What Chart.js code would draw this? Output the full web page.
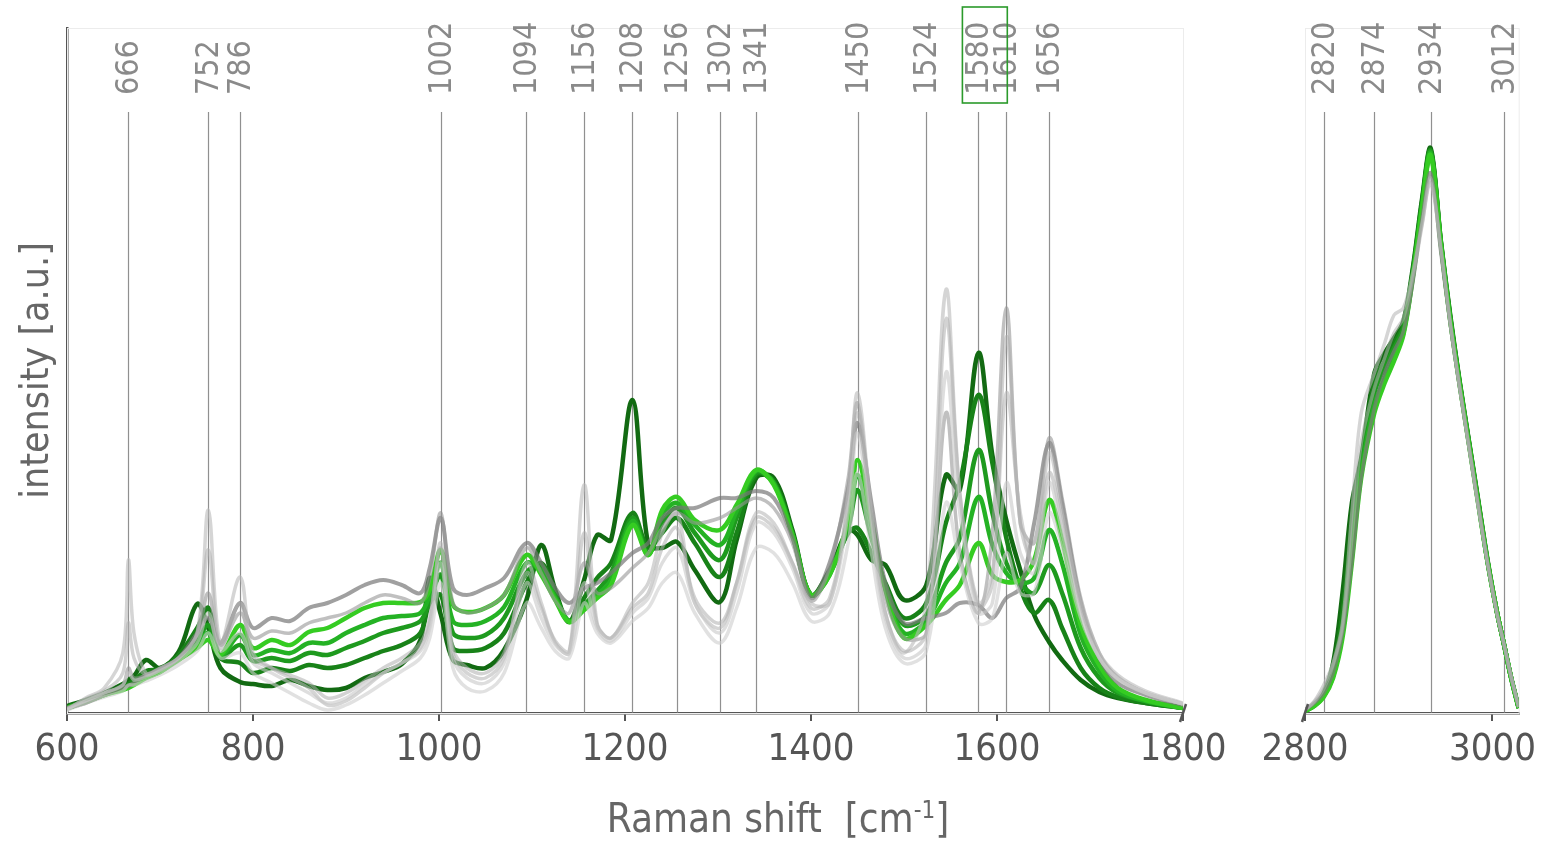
<!DOCTYPE html>
<html>
<head>
<meta charset="utf-8">
<script src="https://cdn.jsdelivr.net/npm/chart.js@4.4.1/dist/chart.umd.min.js"></script>
<style>
body { margin: 0; background: #fff; width: 1545px; height: 842px; overflow: hidden; position: relative; font-family: 'DejaVu Sans Condensed', 'DejaVu Sans', sans-serif; }
#lowCanvas { position: absolute; left: 0; top: 0; }
#highCanvas { position: absolute; left: 1240px; top: 0; }
#xTitle { position: absolute; left: 0; width: 1556px; top: 787px; text-align: center; font-size: 40px; color: #666; line-height: 46px; }
#xTitle sup { font-size: 24px; }
</style>
</head>
<body>
<canvas id="lowCanvas" width="1240" height="842"></canvas>
<canvas id="highCanvas" width="305" height="842"></canvas>
<div id="xTitle">Raman shift &nbsp;[cm<sup>-1</sup>]</div>
<script>
// Raman shift grid (fingerprint region)
const shiftLow = [600,620,640,660,666,672,685,700,720,740, 752,765,786,800,820,840,860,880,900,920,
  940,960,980,990,1002,1015,1030,1050,1070,1094, 1110,1125,1140,1156,1170,1185,1208,1225,1240,1256,
  1275,1302,1320,1341,1360,1380,1400,1420,1440,1450, 1465,1480,1500,1524,1545,1560,1580,1595,1610,1625,
  1640,1656,1670,1690,1710,1730,1760,1800];

// Raman shift grid (CH stretching region)
const shiftHigh = [2800,2810,2820,2830,2840,2850,2860,2874,2885,2895,2905,2915,2925,2934,2945,2955,2965,2975,2985,2995,3005,3012,3020,3028];

// axis tick labels
const ticksLow = [600, 800, 1000, 1200, 1400, 1600, 1800];
const ticksHigh = [2800, 3000];

// marked bands
const peaksLow = [666,752,786,1002,1094,1156,1208,1256,1302,1341,1450,1524,1580,1610,1656];
const peaksHigh = [2820,2874,2934,3012];

// green spectra, light -> dark
const green1Low = [5,11,18,23,25,28,35,41,53,65, 73,58,88,65,73,68,81,85,95,105,
  110,110,111,123,163,108,101,105,118,158, 138,113,91,103,115,128,188,158,203,216,
  193,183,208,243,228,178,118,138,193,253, 193,123,75,88,113,128,170,138,131,133,
  153,213,173,88,48,25,13,5];
const green2Low = [5,11,18,24,26,29,36,41,54,68, 80,57,78,58,63,60,70,70,80,88,
  95,97,100,118,150,92,88,92,106,150, 142,115,92,105,118,133,192,158,198,210,
  188,168,202,242,230,178,118,138,190,238, 183,125,80,92,130,150,216,168,140,130,
  135,183,150,78,42,22,12,5];
const green3Low = [5,11,18,25,27,30,38,42,55,72, 88,56,68,52,55,52,60,58,65,72,
  80,85,92,112,138,80,75,78,95,140, 148,118,92,108,122,140,195,160,190,205,
  180,153,195,240,230,180,118,140,185,223, 175,128,88,98,150,175,263,200,150,130,
  120,148,120,65,35,20,12,5];
const green4Low = [6,12,19,26,29,33,42,44,58,85, 105,55,50,40,45,42,48,45,48,55,
  62,68,80,110,118,65,62,65,80,130, 150,118,92,115,135,150,200,165,180,195,
  170,136,180,238,232,180,118,140,180,185, 160,130,95,110,190,230,318,250,175,125,
  100,113,85,45,25,16,10,5];
const green5Low = [7,13,20,29,33,37,53,45,61,109, 85,45,31,29,27,33,27,23,25,35,
  41,49,73,135,98,53,48,45,63,113, 168,123,91,133,178,173,313,168,165,171,
  143,111,173,235,235,183,118,143,183,178, 153,148,113,128,238,223,360,258,193,143,
  98,71,53,33,21,15,10,5];

// grey reference spectra
const grayALow = [5,10,18,25,27,30,38,44,55,80, 95,70,110,85,95,92,105,110,118,128,
  133,128,120,145,195,125,118,125,135,170, 150,125,110,125,130,140,160,170,195,205,
  205,215,215,222,215,175,115,150,225,290, 210,130,90,95,100,110,108,95,115,125,
  190,270,210,110,55,30,18,8];
const grayBLow = [5,12,20,28,45,35,38,44,55,78, 120,68,100,75,82,80,90,95,100,110,
  118,115,110,135,200,110,100,105,118,165, 140,112,100,150,120,125,145,160,185,200,
  190,195,205,215,205,170,112,145,235,310, 200,115,75,80,300,160,100,180,405,190,
  170,275,215,115,60,35,20,9];
const grayCLow = [3,15,25,60,153,80,40,45,55,80, 203,70,136,60,45,35,25,8,12,25,
  40,50,65,90,170,60,40,35,55,150, 110,70,60,228,90,75,110,130,180,200,
  110,85,130,200,190,150,110,110,220,320, 200,100,60,110,423,220,110,140,320,200,
  150,260,200,110,60,38,22,10];
const grayDLow = [4,14,22,40,90,55,38,43,55,80, 163,65,110,55,45,38,30,15,20,32,
  45,55,70,95,165,65,45,40,60,140, 105,72,62,180,88,75,105,120,165,185,
  115,90,130,195,185,150,105,115,210,300, 190,100,62,80,393,220,105,130,376,190,
  150,240,190,105,58,36,20,9];
const grayELow = [4,12,20,28,40,33,36,42,52,70, 100,62,80,50,40,30,20,10,15,28,
  40,50,62,85,150,55,35,30,50,130, 95,68,60,130,85,72,100,115,150,165,
  110,80,120,190,180,145,100,110,200,280, 180,95,55,70,340,200,100,110,230,160,
  140,230,180,100,55,34,20,9];
const grayFLow = [3,10,16,22,28,28,32,38,48,62, 80,55,60,40,30,20,10,3,8,18,
  30,42,55,75,130,45,25,22,40,110, 85,62,55,110,80,70,92,105,130,140,
  100,70,105,165,160,130,92,100,170,240, 160,85,50,62,210,150,90,95,160,120,
  120,200,165,95,55,34,20,9];

// CH stretching band
const green1High = [2,7,16,35,75,150,235,300,330,352,378,435,505,558,468,392,328,268,208,150,100,70,35,5];
const green2High = [2,7,17,37,80,160,240,308,335,356,380,437,507,560,469,393,329,269,209,150,100,70,35,5];
const green3High = [2,8,18,40,85,170,250,320,345,365,385,440,510,562,470,395,330,270,210,150,100,70,35,5];
const green4High = [2,8,19,45,100,190,250,330,352,370,388,442,512,563,471,396,331,271,211,151,100,70,35,5];
const green5High = [2,8,20,50,120,210,255,340,360,375,392,445,515,565,472,398,332,272,212,152,100,70,35,5];
const grayAHigh = [3,10,20,40,80,150,235,305,340,362,382,430,495,540,460,388,325,266,207,149,99,70,36,6];
const grayCHigh = [3,12,28,50,90,200,300,340,370,398,405,440,490,530,465,390,325,265,205,148,98,70,36,6];
const grayDHigh = [3,11,24,48,85,175,270,325,355,380,395,435,488,535,462,389,326,266,206,149,99,70,36,6];

const FONT = "'DejaVu Sans Condensed', 'DejaVu Sans', sans-serif";
const AXIS = '#555555';

function pts(xs, ys) {
  return xs.map((x, i) => ({ x: x, y: ys[i] }));
}

function line(xs, ys, color, width) {
  return {
    data: pts(xs, ys),
    borderColor: color,
    borderWidth: width,
    pointRadius: 0,
    tension: 0.35,
    fill: false
  };
}

const grayStyles = {
  A: 'rgba(120,120,120,0.7)',
  B: 'rgba(150,150,150,0.6)',
  C: 'rgba(185,185,185,0.6)',
  D: 'rgba(175,175,175,0.55)',
  E: 'rgba(200,200,200,0.6)',
  F: 'rgba(205,205,205,0.6)'
};
const greens = ['#35cc22', '#24b224', '#1e9a1e', '#188218', '#126a12'];

// bands, frame and axis break marks
const peakLines = {
  id: 'peakLines',
  beforeDatasetsDraw(chart, args, opts) {
    const { ctx, chartArea, scales } = chart;
    const x = scales.x;
    ctx.save();
    ctx.strokeStyle = '#ececec';
    ctx.lineWidth = 1;
    ctx.strokeRect(chartArea.left + 0.5, chartArea.top + 0.5, chartArea.right - chartArea.left, chartArea.bottom - chartArea.top);
    ctx.strokeStyle = 'rgba(125,125,125,0.85)';
    ctx.lineWidth = 1.2;
    ctx.fillStyle = '#8a8a8a';
    ctx.font = '32px ' + FONT;
    ctx.textAlign = 'left';
    ctx.textBaseline = 'middle';
    opts.peaks.forEach(p => {
      const px = Math.round(x.getPixelForValue(p)) + 0.5;
      ctx.beginPath();
      ctx.moveTo(px, chartArea.bottom);
      ctx.lineTo(px, 112);
      ctx.stroke();
      ctx.save();
      ctx.translate(px, 95);
      ctx.rotate(-Math.PI / 2);
      ctx.fillText(String(p), 0, 1);
      ctx.restore();
    });
    ctx.restore();
  },
  afterDraw(chart, args, opts) {
    const { ctx, chartArea, scales } = chart;
    ctx.save();
    ctx.strokeStyle = AXIS;
    ctx.lineWidth = 2.5;
    const bx = opts.breakSide === 'right' ? chartArea.right : chartArea.left;
    ctx.beginPath();
    ctx.moveTo(bx - 3, chartArea.bottom + 9);
    ctx.lineTo(bx + 3, chartArea.bottom - 9);
    ctx.stroke();
    if (opts.box) {
      const x = scales.x;
      const l = x.getPixelForValue(opts.box[0]) - 16;
      const r = x.getPixelForValue(opts.box[1]) + 1;
      ctx.strokeStyle = '#2b9a2b';
      ctx.lineWidth = 1.6;
      ctx.strokeRect(l, 7, r - l, 96);
    }
    ctx.restore();
  }
};

function baseOptions(xMin, xMax, tickValues, leftWidth, showY, peaks, breakSide, box, rightPad) {
  return {
    responsive: false,
    animation: false,
    layout: { padding: { top: 28, right: rightPad, left: 0, bottom: 0 } },
    plugins: {
      legend: { display: false },
      tooltip: { enabled: false },
      peakLines: { peaks: peaks, breakSide: breakSide, box: box }
    },
    scales: {
      x: {
        type: 'linear',
        min: xMin,
        max: xMax,
        grid: { drawOnChartArea: false, drawTicks: true, tickLength: 8, color: AXIS, lineWidth: 2 },
        border: { color: AXIS, width: 2.5 },
        ticks: {
          color: AXIS,
          padding: 6,
          font: { family: FONT, size: 38 },
          maxRotation: 0,
          autoSkip: false,
          callback: v => String(v)
        },
        afterBuildTicks: s => { s.ticks = tickValues.map(v => ({ value: v })); },
        afterFit: s => { s.height = 129; }
      },
      y: {
        min: 0,
        max: 685,
        grid: { display: false },
        border: { display: showY, color: AXIS, width: 2.5 },
        ticks: { display: false },
        title: {
          display: showY,
          text: 'intensity [a.u.]',
          color: '#666',
          font: { family: FONT, size: 39 },
          padding: { top: 14, bottom: 0 }
        },
        afterFit: s => { s.width = leftWidth; }
      }
    }
  };
}

const lowSets = [
  line(shiftLow, grayFLow, grayStyles.F, 3.5),
  line(shiftLow, grayELow, grayStyles.E, 3.5),
  line(shiftLow, grayDLow, grayStyles.D, 3.5),
  line(shiftLow, grayCLow, grayStyles.C, 3.5),
  line(shiftLow, grayBLow, grayStyles.B, 3.5),
  line(shiftLow, grayALow, grayStyles.A, 4),
  line(shiftLow, green1Low, greens[0], 4.5),
  line(shiftLow, green2Low, greens[1], 4.5),
  line(shiftLow, green3Low, greens[2], 4.5),
  line(shiftLow, green4Low, greens[3], 4.5),
  line(shiftLow, green5Low, greens[4], 4.5)
];

const highSets = [
  line(shiftHigh, grayDHigh, grayStyles.D, 3.5),
  line(shiftHigh, grayCHigh, grayStyles.C, 3.5),
  line(shiftHigh, grayAHigh, grayStyles.A, 3.5),
  line(shiftHigh, green1High, greens[0], 4.5),
  line(shiftHigh, green2High, greens[1], 4.5),
  line(shiftHigh, green3High, greens[2], 4.5),
  line(shiftHigh, green4High, greens[3], 4.5),
  line(shiftHigh, green5High, greens[4], 4.5)
];

new Chart(document.getElementById('lowCanvas'), {
  type: 'line',
  data: { datasets: lowSets },
  options: baseOptions(600, 1800, ticksLow, 67, true, peaksLow, 'right', [1580, 1610], 57),
  plugins: [peakLines]
});

new Chart(document.getElementById('highCanvas'), {
  type: 'line',
  data: { datasets: highSets },
  options: baseOptions(2800, 3028, ticksHigh, 65, false, peaksHigh, 'left', null, 25),
  plugins: [peakLines]
});
</script>
</body>
</html>
